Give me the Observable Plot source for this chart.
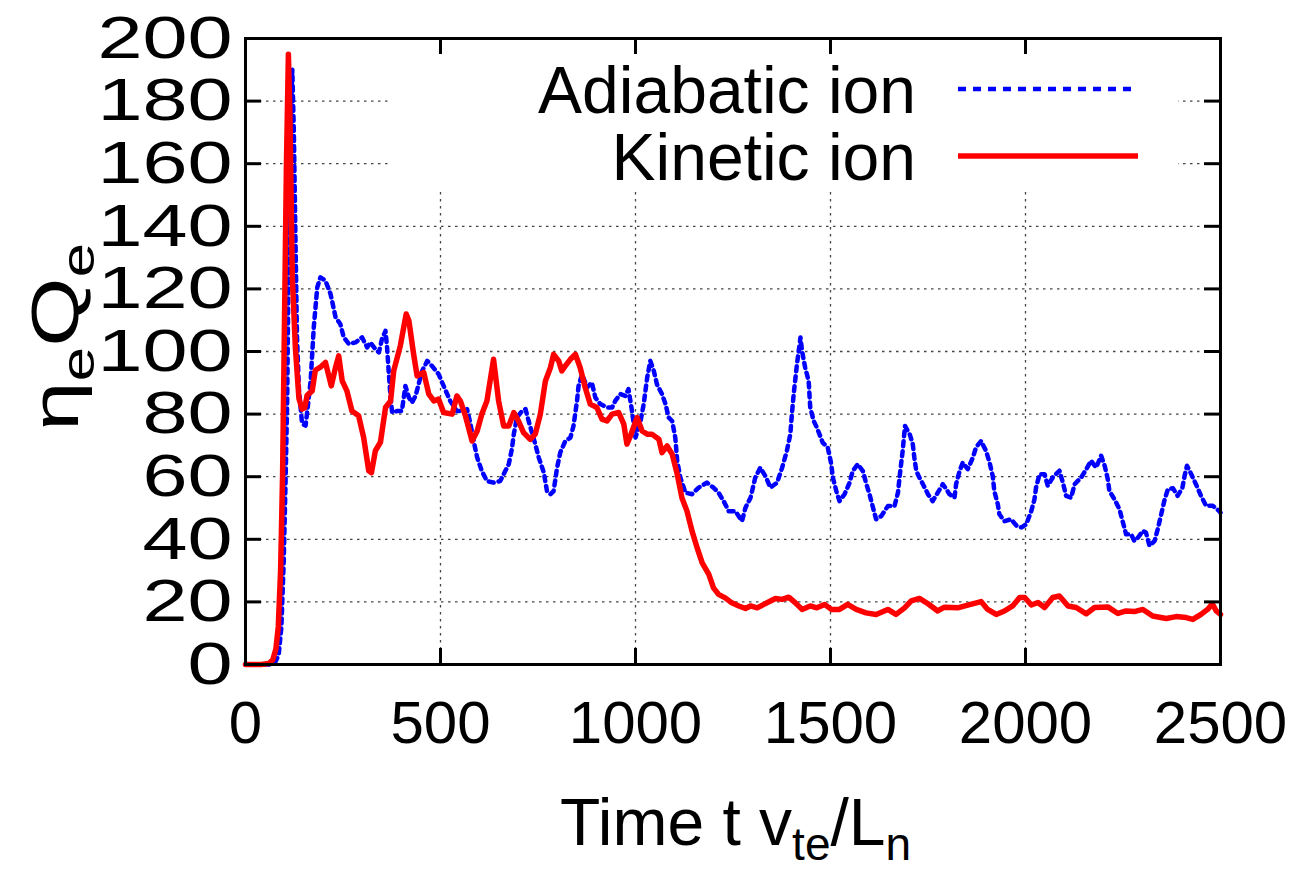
<!DOCTYPE html>
<html><head><meta charset="utf-8">
<script src="https://cdn.jsdelivr.net/npm/d3@7"></script>
<script src="https://cdn.jsdelivr.net/npm/@observablehq/plot@0.6"></script>
<style>body{margin:0;background:#fff} #chart{width:1311px;height:874px}</style>
</head><body><div id="chart"></div>
<script>
// ---- data ----
const seriesNames = ["Adiabatic ion", "Kinetic ion"];
const seriesColors = ["#0000ff", "#ff0000"];
const xTicks = [0, 500, 1000, 1500, 2000, 2500];
const yTicks = [0, 20, 40, 60, 80, 100, 120, 140, 160, 180, 200];

const adiabaticT = [0,60,75,85,92,98,103,107,111,116,120,124,128,132,137,145,154,158,167,175,184,192,205,218,231,243,252,265,282,299,312,320,333,342,350,359,363,367,372,376,389,401,410,419,427,436,444,453,466,478,495,508,525,542,560,568,577,585,594,606,619,636,653,666,675,683,688,696,709,718,726,743,752,765,773,782,790,799,807,820,833,841,850,854,863,876,888,897,910,927,940,948,961,974,982,991,1000,1013,1021,1030,1038,1047,1055,1068,1077,1085,1094,1102,1107,1115,1128,1145,1162,1183,1200,1213,1226,1239,1256,1273,1282,1295,1307,1320,1333,1346,1363,1376,1388,1397,1401,1406,1414,1423,1427,1435,1444,1448,1457,1465,1480,1493,1502,1506,1515,1523,1536,1549,1557,1570,1583,1591,1600,1609,1617,1630,1647,1664,1673,1677,1681,1685,1691,1703,1711,1715,1720,1728,1737,1750,1762,1775,1788,1797,1805,1818,1822,1831,1839,1852,1865,1873,1886,1899,1908,1916,1920,1929,1933,1946,1963,1978,1990,2002,2015,2023,2027,2036,2049,2057,2070,2087,2096,2104,2117,2126,2143,2156,2168,2181,2194,2203,2211,2215,2228,2241,2250,2258,2271,2279,2288,2301,2309,2318,2331,2339,2348,2356,2365,2378,2390,2402,2408,2414,2425,2437,2450,2463,2480,2496,2500];
const adiabaticV = [0,0,0.5,3,12,33,60,85,137,175,190,170,137,105,88,77,76.3,80.5,90.6,107.7,120.5,123.7,122.6,118.4,110.9,108.8,104.5,102.4,102.9,104.5,101.3,102.9,100.8,99.7,104,106.6,101.3,93.8,85.3,80.5,81,81,89,85.3,83.7,85.8,89.6,93.8,97,95.4,92.8,89,84.2,81,81,81.6,76.8,71.4,66.1,61.8,58.6,58.1,58.6,61.8,64,68.8,73.6,78.9,81,81.6,77.8,70.4,66.1,61.3,55.4,54.4,55.4,62.9,67.7,71.4,72.5,76.2,84.2,89,92.7,88.5,90.1,85.3,83.2,82.1,82.1,84.2,86.4,85.8,88,81,72.5,77.8,83.2,91.7,97,93.8,89.5,86.4,83.2,78.9,77.8,72.5,65,59.7,54.9,54.4,56.5,58.1,56.5,54.9,52.2,49,49,45.8,50.1,53.3,59.7,62.9,60.2,56.5,58.1,62.9,68.2,73.6,80,86.9,95.9,104.5,100.2,94.9,90.6,82.1,77.8,75.7,70.9,69.3,64,59.7,55.4,52.2,54.4,58.1,61.8,64,61.8,58.1,54.4,50.1,46.4,47.4,50.6,50.6,54.9,59.7,64,68.2,76.2,73.6,70.4,66.1,61.8,59.7,57.6,54.4,52.2,54.9,57.6,56,54.4,53.3,57.6,61.8,64.5,62.4,66.1,69.3,71.4,68.2,64.5,60.2,55.4,51.2,48,45.8,46.4,44.2,43.8,44.8,49.1,52.8,56.5,60.8,60.8,57.1,59.8,61.9,58.1,53.9,53.3,57.6,59.8,62.4,65.1,62.9,66.7,63.5,59.2,55.5,52.8,49.6,45.3,41.6,41.6,39.5,40.5,42.7,42.1,37.9,39.5,43.2,48,52.3,56,56.3,53.9,56.3,60.3,63.5,60.8,57.6,53.9,50.7,50.7,49.1,48.5];

const kineticT = [0,40,60,70,78,84,90,95,100,105,110,114,120,128,137,145,152,158,171,179,192,205,212,220,231,239,248,260,273,290,303,316,323,333,346,359,372,380,397,412,419,431,440,457,470,483,495,508,530,542,551,564,581,594,606,619,636,649,662,675,688,700,713,730,743,756,769,782,790,803,811,820,833,846,858,871,884,901,914,927,940,957,970,978,987,1004,1017,1030,1042,1060,1068,1081,1094,1107,1119,1132,1145,1158,1171,1188,1200,1213,1230,1247,1265,1282,1295,1312,1329,1346,1359,1376,1393,1410,1427,1448,1465,1485,1502,1523,1544,1566,1591,1617,1647,1668,1690,1707,1728,1750,1775,1792,1826,1852,1886,1903,1925,1946,1967,1985,1998,2015,2032,2049,2070,2087,2109,2130,2156,2177,2211,2237,2258,2279,2301,2326,2361,2386,2412,2429,2450,2467,2479,2489,2500];
const kineticV = [0,0,0.3,1.5,5,12,30,60,110,160,195,175,124,101,85,81.6,82,86,87.4,94,95,96.5,93,89,95,98.6,90.6,87.4,81,79.5,72.5,61.9,61.3,68.3,71,82.1,84.2,93.8,101.8,112,109.8,99.2,92.2,93.3,86.4,84.2,84.8,80.5,80,85.8,84.2,79.4,71.4,74.6,80,84.2,97.5,84.2,76.2,76.2,80.5,77.8,74.1,71.9,73.6,80,90.6,94.9,99.1,97,93.8,95.4,97.5,99.1,94.9,88.5,83.2,82.1,78.4,77.8,80,80.5,76.8,70.4,73,78.9,74.6,73.6,73.6,72,67.7,69.8,67.2,60.8,53.3,49,42.6,37.3,32.5,28.8,24.5,22.4,21.3,19.7,18.7,17.9,18.7,18.1,19.2,20.3,21.1,20.8,21.5,19.7,17.6,18.7,18.1,19.2,17.6,17.6,19.2,17.6,16.5,16,17.6,16,18.1,20.3,21.1,19.4,17.1,18.3,18.1,19,20.1,17.6,16,17.1,18.7,21.4,21.4,19,19.8,18.2,21.4,21.9,18.7,18.2,16.2,18.2,18.4,16.3,17.1,16.9,17.6,15.5,14.7,15.3,15,14.4,16,17.6,19.4,17.1,16];

// ---- tables built from the arrays ----
const adiabatic = adiabaticT.map((t, i) => ({t, v: adiabaticV[i]}));
const kinetic = kineticT.map((t, i) => ({t, v: kineticV[i]}));

// ---- layout ----
const W = 1311, H = 874, mL = 245, mR = 91, mT = 38, mB = 210;
const innerW = W - mL - mR, innerH = H - mT - mB;
const tickLen = 16;
const FONT = "'Liberation Sans', Arial, Helvetica, sans-serif";
const dashBlue = "5,5";
const yStretch = 1.35; // the y-side texts of the reference are wider than plain Arial

function legendBackground() {
  return d3.create("svg:rect")
    .attr("x", 392).attr("y", mT + 2).attr("width", 786).attr("height", 150)
    .attr("fill", "#fff").node();
}

function legend() {
  const g = d3.create("svg:g").attr("font-family", FONT).attr("font-size", 66).attr("fill", "#000");
  const rowsY = [89, 156];
  seriesNames.forEach((name, i) => {
    g.append("text").attr("x", 916).attr("y", rowsY[i] + 24).attr("text-anchor", "end").text(name);
    g.append("line").attr("x1", 958).attr("x2", 1138).attr("y1", rowsY[i]).attr("y2", rowsY[i])
      .attr("stroke", seriesColors[i]).attr("stroke-width", i === 0 ? 4.5 : 5.5)
      .attr("stroke-dasharray", i === 0 ? "8,7" : null);
  });
  return g.node();
}

function axisTitles() {
  const g = d3.create("svg:g").attr("font-family", FONT).attr("fill", "#000");
  const xt = g.append("text").attr("x", mL + innerW / 2 + 3).attr("y", 845).attr("text-anchor", "middle").attr("font-size", 66);
  xt.append("tspan").text("Time t v");
  xt.append("tspan").attr("dy", 15).attr("font-size", 46).text("te");
  xt.append("tspan").attr("dy", -15).text("/L");
  xt.append("tspan").attr("dy", 15).attr("font-size", 46).text("n");
  const yt = g.append("text")
    .attr("transform", `translate(78,${mT + innerH / 2 - 14}) rotate(-90) scale(${yStretch},1)`)
    .attr("text-anchor", "middle").attr("font-size", 66);
  yt.append("tspan").text("η");
  yt.append("tspan").attr("dy", 16).attr("font-size", 46).text("e");
  yt.append("tspan").attr("dy", -16).text("Q");
  yt.append("tspan").attr("dy", 16).attr("font-size", 46).text("e");
  return g.node();
}

const gridStyle = {stroke: "#444", strokeOpacity: 1, strokeWidth: 1.3, strokeDasharray: "2.5,4.5"};

const chart = Plot.plot({
  width: W, height: H,
  marginLeft: mL, marginRight: mR, marginTop: mT, marginBottom: mB,
  style: {fontFamily: FONT, background: "#fff", color: "#000"},
  x: {domain: [0, 2500]},
  y: {domain: [0, 200]},
  marks: [
    Plot.gridX(xTicks.slice(1, -1), gridStyle),
    Plot.gridY(yTicks.slice(1, -1), gridStyle),
    legendBackground,
    Plot.line(adiabatic, {x: "t", y: "v", stroke: seriesColors[0], strokeWidth: 4.5, strokeDasharray: dashBlue, strokeLinejoin: "round"}),
    Plot.line(kinetic, {x: "t", y: "v", stroke: seriesColors[1], strokeWidth: 5.5, strokeLinejoin: "round"}),
    Plot.frame({stroke: "#000", strokeWidth: 3}),
    Plot.tickX(xTicks, {x: d => d, insetTop: innerH - tickLen, strokeWidth: 3}),
    Plot.tickX(xTicks, {x: d => d, insetBottom: innerH - tickLen, strokeWidth: 3}),
    Plot.tickY(yTicks, {y: d => d, insetRight: innerW - tickLen, strokeWidth: 3}),
    Plot.tickY(yTicks, {y: d => d, insetLeft: innerW - tickLen, strokeWidth: 3}),
    Plot.axisX(xTicks, {tickSize: 0, tickPadding: 36, label: null, fontSize: 60, tickFormat: d => String(d)}),
    Plot.axisY(yTicks, {tickSize: 0, tickPadding: 13, label: null, fontSize: 60, tickFormat: d => String(d)}),
    axisTitles,
    legend
  ]
});
document.getElementById("chart").append(chart);

// widen the y tick labels as in the reference
chart.querySelectorAll('g[aria-label="y-axis tick label"] text').forEach(t => {
  const w = t.getComputedTextLength();
  t.setAttribute("textLength", (w * yStretch).toFixed(1));
  t.setAttribute("lengthAdjust", "spacingAndGlyphs");
});
</script>
</body></html>
